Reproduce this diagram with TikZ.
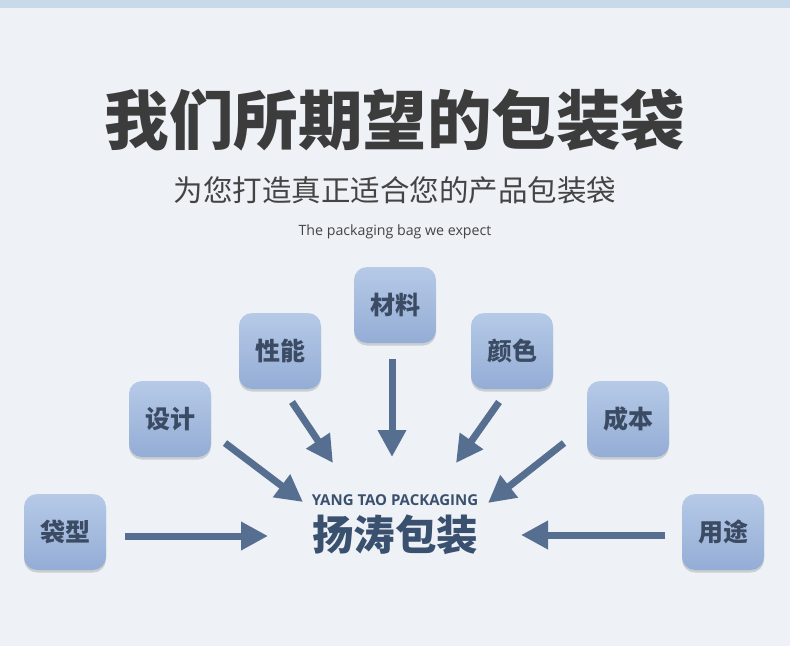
\documentclass[tikz,border=0pt]{standalone}
\usepackage{fontspec}
\setmainfont{Open Sans}
\newfontfamily\cjk{Noto Sans CJK SC}
\usetikzlibrary{arrows.meta,shadows}
\definecolor{bgc}{HTML}{EEF2F6}
\definecolor{stripc}{HTML}{C8DAEA}
\definecolor{titlec}{HTML}{3C3C3C}
\definecolor{subc}{HTML}{444444}
\definecolor{boxtop}{HTML}{B6CAE7}
\definecolor{boxbot}{HTML}{94ADD6}
\definecolor{boxtext}{HTML}{3B4B63}
\definecolor{arrowc}{HTML}{566E8F}
\definecolor{centerc}{HTML}{3A506F}
\tikzset{
  itembox/.style={minimum width=82pt, minimum height=76pt, rounded corners=13pt,
    top color=boxtop, bottom color=boxbot, draw=none, inner sep=0pt,
    drop shadow={shadow xshift=0pt, shadow yshift=-2.5pt, opacity=0.35, fill=black!45},
    font=\cjk\bfseries\fontsize{25}{25}\selectfont, text=boxtext},
  bigarrow/.style={draw=arrowc, line width=7pt, -{Triangle[length=27pt,width=27pt]}}
}
\begin{document}
\begin{tikzpicture}[x=1pt,y=-1pt]
\useasboundingbox (0,0) rectangle (790,646);
\fill[bgc] (0,0) rectangle (790,646);
\fill[stripc] (0,0) rectangle (790,8);
% titles
\node[text=titlec, font=\cjk\bfseries\fontsize{64.5}{64.5}\selectfont, inner sep=0pt] (title) at (395,120) {我们所期望的包装袋};
\node[text=subc, font=\cjk\fontsize{29.5}{29.5}\selectfont, inner sep=0pt] (sub) at (395,190) {为您打造真正适合您的产品包装袋};
\node[text=subc, font=\fontsize{14.2}{14.2}\selectfont, inner sep=0pt] (eng) at (395,232) {The packaging bag we expect};
% center
\node[text=centerc, font=\bfseries\fontsize{15}{15}\selectfont, inner sep=0pt] (brand) at (395,500) {YANG TAO PACKAGING};
\node[text=centerc, font=\cjk\bfseries\fontsize{41.5}{41.5}\selectfont, inner sep=0pt] (center) at (395,535) {扬涛包装};
% boxes
\node[itembox] (daixing) at (65,532) {袋型};
\node[itembox] (sheji) at (170,419) {设计};
\node[itembox] (xingneng) at (280,351) {性能};
\node[itembox] (cailiao) at (395,305) {材料};
\node[itembox] (yanse) at (512,351) {颜色};
\node[itembox] (chengben) at (628,419) {成本};
\node[itembox] (yongtu) at (723,532) {用途};
% arrow ends
\coordinate (s1) at (125,536); \coordinate (t1) at (268,536);
\coordinate (s2) at (225,443); \coordinate (t2) at (303,502);
\coordinate (s3) at (292,402); \coordinate (t3) at (333,463);
\coordinate (s4) at (392,359); \coordinate (t4) at (392,457);
\coordinate (s5) at (499,402); \coordinate (t5) at (456,463);
\coordinate (s6) at (564,443); \coordinate (t6) at (488,503);
\coordinate (s7) at (665,535); \coordinate (t7) at (521,535);
\foreach \i in {1,...,7} {\draw[bigarrow] (s\i) -- (t\i);}
\end{tikzpicture}
\end{document}
